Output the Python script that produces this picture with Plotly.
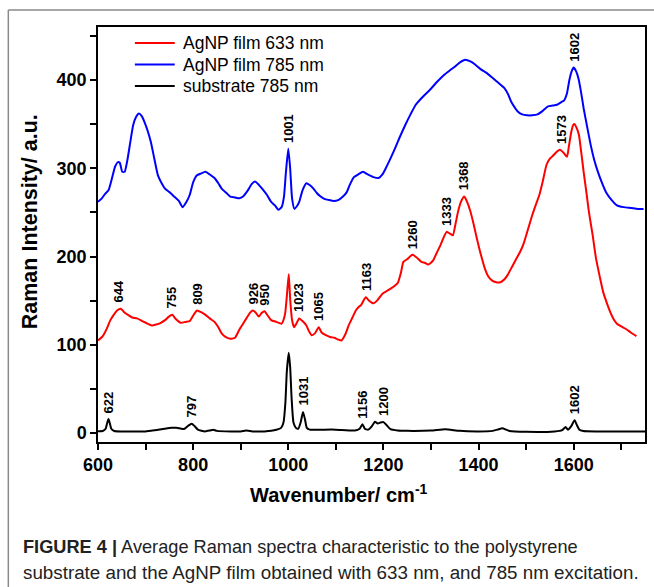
import numpy as np
import plotly.graph_objects as go

# ---- AgNP film, 633 nm excitation ----
wn_633 = [600, 610, 619, 626, 633, 640, 648, 655, 663, 672, 682, 693, 704, 713, 722, 732, 741, 749,
          756, 764, 774, 784, 793, 800, 808, 817, 826, 835, 845, 853, 860, 868, 878, 888, 897, 905,
          912, 919, 925, 931, 938, 944, 950, 957, 964, 975, 986, 993, 997, 1001, 1004, 1008, 1012,
          1017, 1023, 1030, 1038, 1044, 1049, 1056, 1064, 1070, 1079, 1088, 1097, 1105, 1112, 1120,
          1127, 1135, 1142, 1148, 1153, 1158, 1163, 1170, 1179, 1188, 1198, 1207, 1216, 1224, 1231,
          1237, 1242, 1250, 1261, 1270, 1280, 1287, 1294, 1300, 1305, 1312, 1320, 1327, 1333, 1340,
          1346, 1352, 1357, 1363, 1370, 1376, 1383, 1390, 1398, 1405, 1413, 1420, 1428, 1437, 1446,
          1454, 1461, 1470, 1480, 1488, 1495, 1504, 1513, 1520, 1528, 1535, 1543, 1550, 1558, 1565,
          1571, 1578, 1586, 1590, 1595, 1599, 1602, 1606, 1611, 1616, 1621, 1627, 1632, 1640, 1647,
          1655, 1662, 1670, 1677, 1684, 1691, 1700, 1710, 1720, 1732]
int_633 = [105, 110, 119, 128, 134, 139, 141, 137, 134, 131, 130, 127, 124, 122, 123, 125, 128, 132,
           134, 129, 125, 126, 127, 133, 139, 137, 134, 130, 126, 120, 113, 109, 107, 108, 117, 124,
           130, 136, 139, 137, 132, 136, 138, 133, 128, 126, 124, 134, 155, 180, 152, 128, 120,
           124, 130, 127, 122, 115, 111, 113, 120, 114, 111, 109, 108, 106, 105, 112,
           122, 131, 139, 143, 145, 150, 154, 150, 147, 151, 158, 161, 164, 167, 171,
           182, 194, 197, 202, 199, 194, 193, 191, 193, 196, 204, 213, 222, 228, 226,
           224, 238, 251, 262, 268, 262, 251, 236, 217, 202, 187, 178, 173, 171, 171,
           174, 179, 188, 198, 206, 215, 231, 247, 258, 270, 285, 304, 311, 315, 319,
           321, 318, 313, 325, 341, 349, 350, 346, 338, 318, 296, 272, 251, 224, 198,
           177, 160, 147, 137, 129, 124, 121, 118, 114, 110]

# ---- AgNP film, 785 nm excitation ----
wn_785 = [600, 608, 615, 622, 630, 636, 642, 646, 651, 656, 662, 668, 674, 680, 686, 692, 698, 704,
          711, 718, 726, 733, 741, 750, 760, 770, 778, 786, 793, 800, 808, 816, 826, 835, 845, 853,
          860, 870, 878, 888, 897, 905, 915, 923, 930, 937, 945, 955, 964, 972, 979, 986, 991, 995,
          1000, 1004, 1008, 1013, 1018, 1023, 1030, 1038, 1045, 1053, 1060, 1068, 1077, 1086, 1095,
          1105, 1115, 1123, 1130, 1138, 1147, 1157, 1167, 1179, 1190, 1198, 1205, 1214, 1224, 1235,
          1246, 1257, 1268, 1283, 1298, 1313, 1328, 1340, 1350, 1361, 1372, 1383, 1394, 1405, 1417,
          1428, 1439, 1454, 1462, 1469, 1476, 1483, 1492, 1502, 1513, 1524, 1535, 1546, 1556, 1565,
          1574, 1580, 1586, 1591, 1596, 1600, 1605, 1610, 1615, 1621, 1628, 1636, 1643, 1651, 1660,
          1669, 1680, 1691, 1705, 1721, 1735, 1747]
int_785 = [262, 266, 271, 275, 290, 302, 307, 306, 296, 296, 310, 330, 349, 358, 362, 359, 352, 343,
           330, 312, 292, 284, 277, 273, 268, 263, 256, 262, 270, 284, 292, 294, 296, 293, 289, 283,
           277, 272, 268, 267, 266, 268, 275, 282, 285, 282, 277, 270, 262, 258, 253, 256, 268, 295,
           322, 300, 266, 254, 257, 262, 275, 283, 281, 277, 272, 268, 265, 264, 263,
           264, 268, 273, 282, 290, 293, 296, 293, 290, 289, 293, 300, 310, 322, 336,
           349, 361, 372, 381, 389, 398, 406, 411, 415, 420, 423, 421, 417, 412, 408,
           403, 398, 391, 384, 375, 369, 364, 361, 360, 360, 361, 365, 370, 371, 372,
           375, 377, 385, 400, 410, 414, 410, 402, 388, 368, 348, 326, 310, 296, 283,
           272, 264, 258, 256, 255, 254, 254]

# ---- polystyrene substrate, 785 nm excitation ----
wn_sub = [600, 610, 616, 619, 622, 625, 628, 634, 650, 680, 700, 720, 740, 755, 765, 775, 782, 790,
          797, 803, 810, 825, 835, 842, 850, 880, 900, 912, 925, 950, 975, 985, 990, 994, 997, 1001,
          1004, 1007, 1011, 1016, 1021, 1026, 1031, 1035, 1039, 1045, 1070, 1100, 1140, 1150, 1156,
          1161, 1168, 1176, 1182, 1188, 1194, 1200, 1207, 1215, 1230, 1250, 1300, 1330, 1360, 1400,
          1430, 1440, 1450, 1458, 1465, 1500, 1560, 1576, 1583, 1588, 1595, 1602, 1607, 1612, 1620,
          1650, 1750]
int_sub = [2.3, 2.5, 5, 11, 16, 11, 5, 2.5, 2, 2, 2, 3.4, 5, 6, 6, 5, 5, 8.5,
           10.6, 8, 4, 2, 3, 4, 2.6, 2, 2, 3, 2, 2, 3.8, 6, 12, 35, 70, 91,
           75, 40, 12, 6, 5, 12, 24, 16, 6, 4, 4, 4, 3, 5, 10,
           5, 4, 8, 13, 11, 12, 12.5, 9, 4.5, 3, 2.6, 3, 4.5, 2.6, 2,
           2.6, 4, 5.7, 4, 2.5, 1.5, 2, 3.5, 7, 4, 8, 14.7, 9, 4, 2.5,
           2, 2]

# Assigned band positions (cm-1) labelled on each spectrum
peaks_633 = [644, 755, 809, 926, 950, 1023, 1065, 1163, 1260, 1333, 1368, 1573]
peaks_785 = [1001, 1602]
peaks_sub = [622, 797, 1031, 1156, 1200, 1602]

series = [
    ("AgNP film 633 nm", wn_633, int_633, "#ff0000", peaks_633),
    ("AgNP film 785 nm", wn_785, int_785, "#0000ff", peaks_785),
    ("substrate 785 nm", wn_sub, int_sub, "#000000", peaks_sub),
]

W, H = 654, 587
ML, MR, MT, MB = 98, 7, 27, 145
PW, PH = W - ML - MR, H - MT - MB


def px_x(px):
    return (px - ML) / PW


def px_y(py):
    return (H - MB - py) / PH


FONT = "Arial, Liberation Sans, sans-serif"

fig = go.Figure()
annotations = []
shapes = []

# legend block: short line sample followed by the series name
LEG_X0, LEG_X1, LEG_TX, LEG_Y0, LEG_DY = 135, 175, 181, 43, 21.5

for i, (name, wn, inten, color, peaks) in enumerate(series):
    fig.add_trace(go.Scatter(
        x=wn, y=inten, mode="lines", name=name,
        line=dict(color=color, width=2, shape="spline", smoothing=0.5),
    ))
    wn_a = np.asarray(wn, float)
    in_a = np.asarray(inten, float)
    for p in peaks:
        grid = np.linspace(p - 7, p + 7, 29)
        top = float(np.interp(grid, wn_a, in_a).max())
        annotations.append(dict(
            x=p, y=top, xref="x", yref="y", text=str(p), showarrow=False,
            textangle=-90, xanchor="center", yanchor="bottom", yshift=4,
            font=dict(family=FONT, size=13, color="black", weight="bold"),
        ))
    ly = LEG_Y0 + i * LEG_DY
    shapes.append(dict(type="line", xref="paper", yref="paper",
                       x0=px_x(LEG_X0), x1=px_x(LEG_X1), y0=px_y(ly), y1=px_y(ly),
                       line=dict(color=color, width=2)))
    annotations.append(dict(
        x=px_x(LEG_TX), y=px_y(ly), xref="paper", yref="paper", text=name,
        showarrow=False, xanchor="left", yanchor="middle",
        font=dict(family=FONT, size=17.5, color="black"),
    ))

# axis titles
annotations.append(dict(
    x=px_x(30), y=px_y(222), xref="paper", yref="paper", showarrow=False,
    text="Raman Intensity/ a.u.", textangle=-90, xanchor="center", yanchor="middle",
    font=dict(family=FONT, size=21.5, color="black", weight="bold"),
))
annotations.append(dict(
    x=px_x(340), y=px_y(493), xref="paper", yref="paper", showarrow=False,
    text="Wavenumber/ cm<sup>-1</sup>", xanchor="center", yanchor="middle",
    font=dict(family=FONT, size=20, color="black", weight="bold"),
))

# figure caption
annotations.append(dict(
    x=px_x(21), y=px_y(547), xref="paper", yref="paper", showarrow=False,
    text="<b>FIGURE 4 |</b> Average Raman spectra characteristic to the polystyrene",
    xanchor="left", yanchor="middle", align="left",
    font=dict(family=FONT, size=18.2, color="#222222"),
))
annotations.append(dict(
    x=px_x(21), y=px_y(572), xref="paper", yref="paper", showarrow=False,
    text="substrate and the AgNP film obtained with 633 nm, and 785 nm excitation.",
    xanchor="left", yanchor="middle", align="left",
    font=dict(family=FONT, size=18.8, color="#222222"),
))

# outer figure frame (top and left edges)
shapes += [
    dict(type="line", xref="paper", yref="paper", x0=px_x(8), y0=px_y(10), x1=px_x(660), y1=px_y(10),
         line=dict(color="#8a8a8a", width=1.5)),
    dict(type="line", xref="paper", yref="paper", x0=px_x(8), y0=px_y(10), x1=px_x(8), y1=px_y(600),
         line=dict(color="#8a8a8a", width=1.5)),
]

axis_common = dict(
    showgrid=False, zeroline=False, showline=True, linecolor="black", linewidth=1.5,
    mirror=True, ticks="outside", ticklen=6, tickwidth=1.5, tickcolor="black",
    tickfont=dict(family=FONT, size=18, color="black", weight="bold"),
)

fig.update_layout(
    width=W, height=H,
    margin=dict(l=ML, r=MR, t=MT, b=MB),
    paper_bgcolor="white", plot_bgcolor="white",
    xaxis=dict(range=[600, 1750], tick0=600, dtick=200,
               minor=dict(ticks="outside", dtick=100, ticklen=6, tickwidth=1.5, tickcolor="black",
                          showgrid=False),
               **axis_common),
    yaxis=dict(range=[-10, 460], tick0=0, dtick=100,
               minor=dict(ticks="outside", dtick=50, ticklen=6, tickwidth=1.5, tickcolor="black",
                          showgrid=False),
               **axis_common),
    annotations=annotations,
    shapes=shapes,
    showlegend=False,
)

fig.write_html("out.html")
